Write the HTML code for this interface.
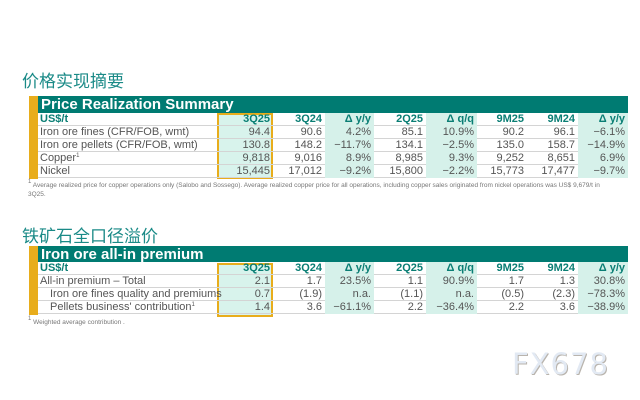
<!DOCTYPE html>
<html><head><meta charset="utf-8"><style>
*{margin:0;padding:0;box-sizing:border-box}
body{width:640px;height:400px;background:#fff;position:relative;overflow:hidden;font-family:"Liberation Sans","Noto Sans CJK SC",sans-serif}
.t{position:absolute;left:22px;font-size:17px;color:#1a8a87;font-family:"Noto Sans CJK SC",sans-serif}
.bar{position:absolute;left:29px;width:9px;background:#e8ad1c}
.hd{position:absolute;left:38px;width:590px;height:17px;background:#007b72;color:#fff;font-weight:bold;font-size:15px;line-height:17px;padding-left:3px}
.row{position:absolute;left:38px;width:590px;height:13px;display:flex;font-size:11px;line-height:13px;color:#555;border-bottom:1px solid #d4d4d4}
.row div{text-align:right;padding-right:3px;height:13px;white-space:nowrap}
.row .l{width:179px;text-align:left;padding-left:2px}
.c1{width:56px}.c2{width:52px}.c3{width:49px;background:#d6f1ea}.c4{width:52px}.c5{width:51px;background:#d6f1ea}.c6{width:50px}.c7{width:51px}.c8{width:50px;background:#d6f1ea}
.h{font-weight:bold;color:#0a7e74}
.box{position:absolute;left:217px;width:56px;border:2px solid #e8ad1c;background:rgba(190,235,224,0.6)}
.fn{position:absolute;left:28px;font-size:6.5px;color:#777;line-height:9px;white-space:nowrap}
.ind{padding-left:12px!important}
sup{font-size:6px;line-height:0;vertical-align:4px}
</style></head><body>
<div class="t" style="top:67px">价格实现摘要</div>
<div class="bar" style="top:96px;height:83px"></div>
<div class="hd" style="top:96px">Price Realization Summary</div>
<div class="box" style="top:113px;height:66px"></div>
<div class="row h" style="top:113px"><div class="l">US$/t</div><div class="c1">3Q25</div><div class="c2">3Q24</div><div class="c3">Δ y/y</div><div class="c4">2Q25</div><div class="c5">Δ q/q</div><div class="c6">9M25</div><div class="c7">9M24</div><div class="c8">Δ y/y</div></div>
<div class="row" style="top:126px"><div class="l">Iron ore fines (CFR/FOB, wmt)</div><div class="c1">94.4</div><div class="c2">90.6</div><div class="c3">4.2%</div><div class="c4">85.1</div><div class="c5">10.9%</div><div class="c6">90.2</div><div class="c7">96.1</div><div class="c8">−6.1%</div></div>
<div class="row" style="top:139px"><div class="l">Iron ore pellets (CFR/FOB, wmt)</div><div class="c1">130.8</div><div class="c2">148.2</div><div class="c3">−11.7%</div><div class="c4">134.1</div><div class="c5">−2.5%</div><div class="c6">135.0</div><div class="c7">158.7</div><div class="c8">−14.9%</div></div>
<div class="row" style="top:152px"><div class="l">Copper<sup>1</sup></div><div class="c1">9,818</div><div class="c2">9,016</div><div class="c3">8.9%</div><div class="c4">8,985</div><div class="c5">9.3%</div><div class="c6">9,252</div><div class="c7">8,651</div><div class="c8">6.9%</div></div>
<div class="row" style="top:165px"><div class="l">Nickel</div><div class="c1">15,445</div><div class="c2">17,012</div><div class="c3">−9.2%</div><div class="c4">15,800</div><div class="c5">−2.2%</div><div class="c6">15,773</div><div class="c7">17,477</div><div class="c8">−9.7%</div></div>
<div class="fn" style="top:181px"><sup>1</sup> Average realized price for copper operations only (Salobo and Sossego). Average realized copper price for all operations, including copper sales originated from nickel operations was US$ 9,679/t in<br>3Q25.</div>

<div class="t" style="top:222px">铁矿石全口径溢价</div>
<div class="bar" style="top:246px;height:69px"></div>
<div class="hd" style="top:246px;height:16px">Iron ore all-in premium</div>
<div class="box" style="top:263px;height:54px"></div>
<div class="row h" style="top:262px"><div class="l">US$/t</div><div class="c1">3Q25</div><div class="c2">3Q24</div><div class="c3">Δ y/y</div><div class="c4">2Q25</div><div class="c5">Δ q/q</div><div class="c6">9M25</div><div class="c7">9M24</div><div class="c8">Δ y/y</div></div>
<div class="row" style="top:275px"><div class="l">All-in premium – Total</div><div class="c1">2.1</div><div class="c2">1.7</div><div class="c3">23.5%</div><div class="c4">1.1</div><div class="c5">90.9%</div><div class="c6">1.7</div><div class="c7">1.3</div><div class="c8">30.8%</div></div>
<div class="row" style="top:288px"><div class="l ind">Iron ore fines quality and premiums</div><div class="c1">0.7</div><div class="c2">(1.9)</div><div class="c3">n.a.</div><div class="c4">(1.1)</div><div class="c5">n.a.</div><div class="c6">(0.5)</div><div class="c7">(2.3)</div><div class="c8">−78.3%</div></div>
<div class="row" style="top:301px"><div class="l ind">Pellets business' contribution<sup>1</sup></div><div class="c1">1.4</div><div class="c2">3.6</div><div class="c3">−61.1%</div><div class="c4">2.2</div><div class="c5">−36.4%</div><div class="c6">2.2</div><div class="c7">3.6</div><div class="c8">−38.9%</div></div>
<div class="fn" style="top:318px"><sup>1</sup> Weighted average contribution .</div>

<div style="position:absolute;left:512px;top:347px;font-size:29px;letter-spacing:1px;color:#e2e9f3;text-shadow:1px 1px 0 #b9b4ad;font-family:'DejaVu Sans',sans-serif">FX678</div>
</body></html>
